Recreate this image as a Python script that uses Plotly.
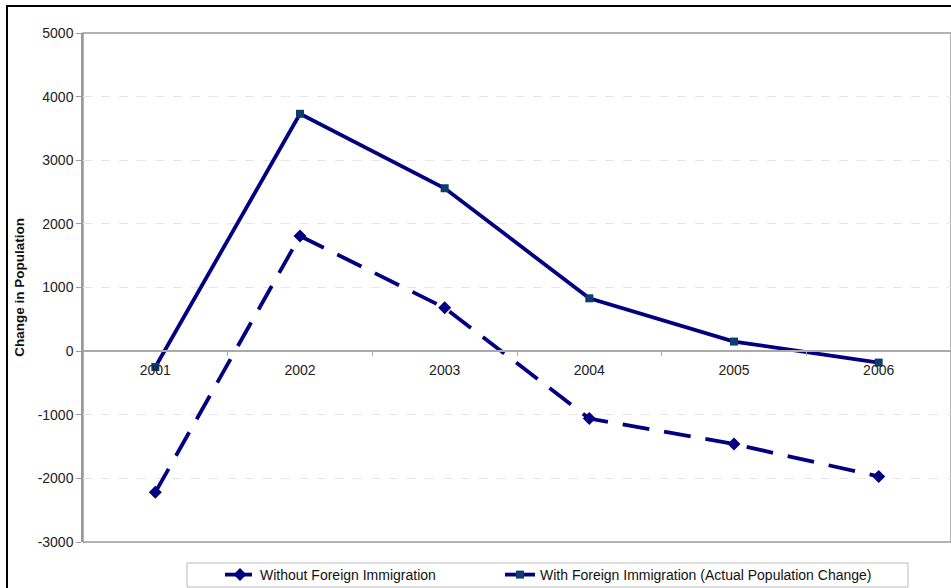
import plotly.graph_objects as go

years = ["2001", "2002", "2003", "2004", "2005", "2006"]
without_foreign = [-2220, 1810, 680, -1060, -1460, -1970]
with_foreign = [-250, 3730, 2560, 830, 150, -180]
y_ticks = [-3000, -2000, -1000, 0, 1000, 2000, 3000, 4000, 5000]

W, H = 951, 588
L, R, T, B = 83, 0, 33, 46
pw, ph = W - L - R, H - T - B


def px_x(x):
    return (x - L) / pw


def px_y(y):
    return (H - B - y) / ph


fig = go.Figure()
fig.add_trace(go.Scatter(
    x=years, y=without_foreign, mode="lines+markers",
    name="Without Foreign Immigration", legend="legend",
    line=dict(color="#000080", width=3.8, dash="27px,15px"),
    marker=dict(symbol="diamond", size=10, color="#000080"),
))
fig.add_trace(go.Scatter(
    x=years, y=with_foreign, mode="lines+markers",
    name="With Foreign Immigration (Actual Population Change)", legend="legend2",
    line=dict(color="#000080", width=3.8),
    marker=dict(symbol="square", size=8, color="#0d3c6e"),
))

leg_common = dict(orientation="h", yanchor="middle", xanchor="left", borderwidth=0,
                  bgcolor="rgba(0,0,0,0)", font=dict(size=14, color="#111"))

fig.update_layout(
    width=W, height=H,
    margin=dict(l=L, r=R, t=T, b=B, autoexpand=False),
    paper_bgcolor="white", plot_bgcolor="white",
    font=dict(family="Arial, Liberation Sans, sans-serif", size=14, color="#222"),
    showlegend=True,
    legend=dict(x=px_x(220), y=px_y(575), **leg_common),
    legend2=dict(x=px_x(500), y=px_y(575), **leg_common),
    xaxis=dict(
        type="category", range=[-0.5, 5.5],
        anchor="free", position=3 / 8,
        showline=True, linecolor="#aaaaaa", linewidth=1.5,
        ticks="outside", tickson="boundaries", ticklen=4, tickcolor="#aaaaaa",
        ticklabelstandoff=6,
        showgrid=False, tickfont=dict(size=14, color="#222"),
    ),
    yaxis=dict(
        range=[-3000, 5000], tickvals=y_ticks, ticktext=[str(v) for v in y_ticks],
        showline=True, linecolor="#999999", linewidth=1.5,
        ticks="outside", ticklen=5, tickcolor="#999999",
        showgrid=True, gridcolor="#e6e6e6", griddash="dash", gridwidth=1,
        zeroline=False,
        tickfont=dict(size=14, color="#222"),
        title=dict(text="<b>Change in Population</b>", font=dict(size=13.5, color="#111"), standoff=10),
    ),
)

# plot area frame
fig.add_shape(type="rect", xref="paper", yref="paper", x0=0, x1=1, y0=0, y1=1,
              line=dict(color="#999999", width=1.5), layer="below")
# legend box
fig.add_shape(type="rect", xref="paper", yref="paper",
              x0=px_x(187), x1=px_x(908), y0=px_y(587), y1=px_y(563),
              line=dict(color="#bbbbbb", width=1), layer="below")
# outer chart border
fig.add_shape(type="rect", xref="paper", yref="paper",
              x0=px_x(7), x1=1.2, y0=-0.3, y1=px_y(6),
              line=dict(color="black", width=2))

fig.write_html("out.html")
